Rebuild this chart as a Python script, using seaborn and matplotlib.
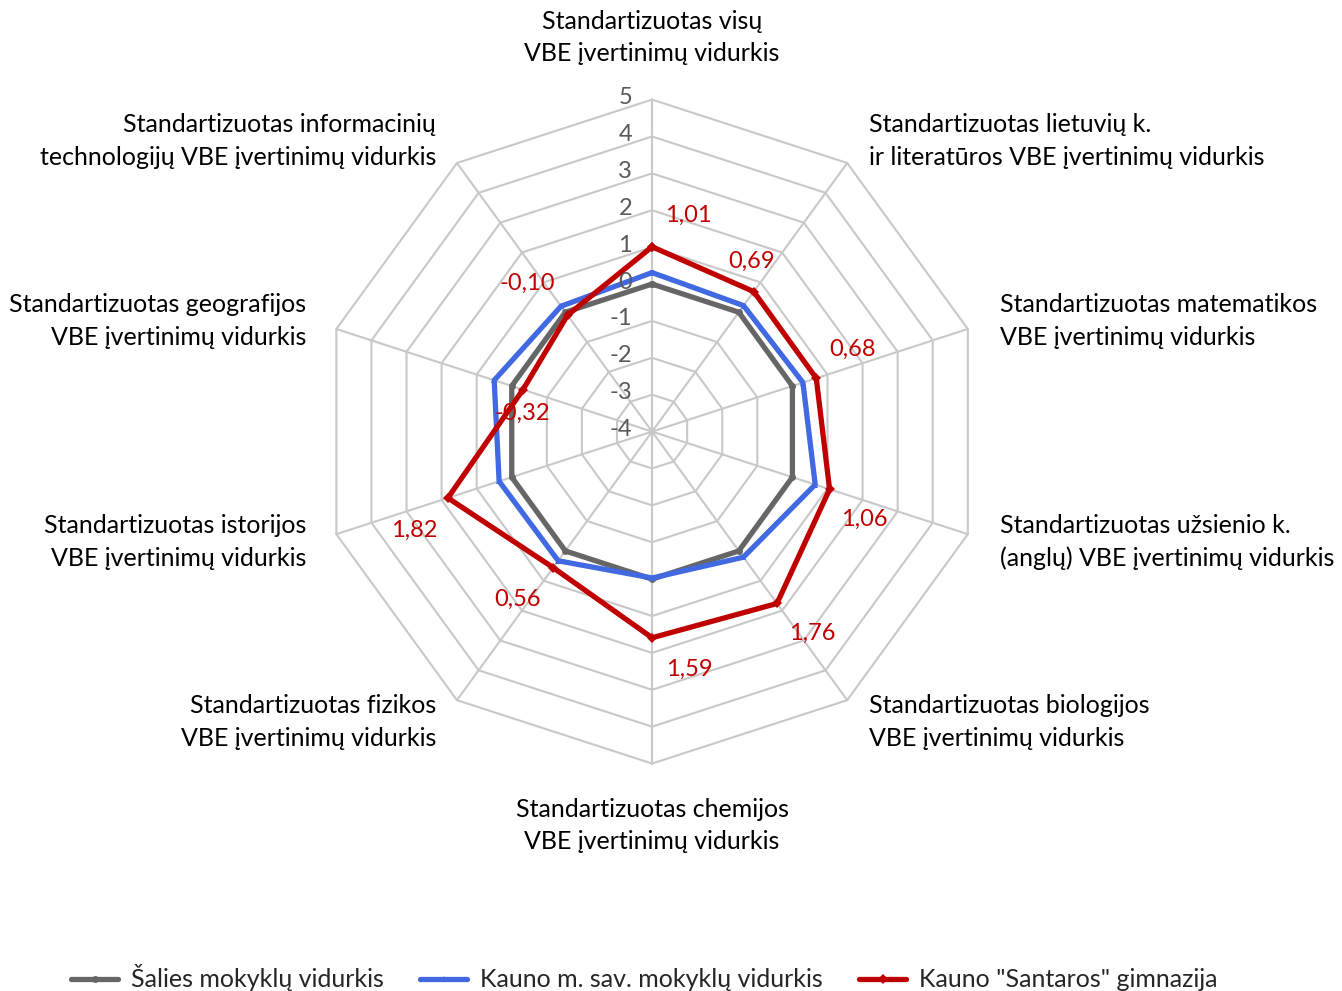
import numpy as np
import pandas as pd
import matplotlib
matplotlib.use("Agg")
import matplotlib.pyplot as plt
import seaborn as sns

# Data
categories = [
    "Standartizuotas visų\nVBE įvertinimų vidurkis",
    "Standartizuotas lietuvių k.\nir literatūros VBE įvertinimų vidurkis",
    "Standartizuotas matematikos\nVBE įvertinimų vidurkis",
    "Standartizuotas užsienio k.\n(anglų) VBE įvertinimų vidurkis",
    "Standartizuotas biologijos\nVBE įvertinimų vidurkis",
    "Standartizuotas chemijos\nVBE įvertinimų vidurkis",
    "Standartizuotas fizikos\nVBE įvertinimų vidurkis",
    "Standartizuotas istorijos\nVBE įvertinimų vidurkis",
    "Standartizuotas geografijos\nVBE įvertinimų vidurkis",
    "Standartizuotas informacinių\ntechnologijų VBE įvertinimų vidurkis",
]
salies = [0, 0, 0, 0, 0, 0, 0, 0, 0, 0]
kauno_sav = [0.31, 0.22, 0.30, 0.65, 0.21, -0.03, 0.33, 0.36, 0.50, 0.20]
santaros = [1.01, 0.69, 0.68, 1.06, 1.76, 1.59, 0.56, 1.82, -0.32, -0.10]
series_names = ["Šalies mokyklų vidurkis", "Kauno m. sav. mokyklų vidurkis",
                'Kauno "Santaros" gimnazija']
r_ticks = [-4, -3, -2, -1, 0, 1, 2, 3, 4, 5]

sns.set_theme(style="white")
plt.rcParams["font.family"] = ["Lato", "DejaVu Sans"]

n = len(categories)
theta = np.linspace(0, 2 * np.pi, n, endpoint=False)
theta_c = np.append(theta, theta[0])

fig = plt.figure(figsize=(13.42, 9.91), dpi=100)
ax = fig.add_axes([0.2385, 0.2295, 0.4948, 0.670], projection="polar")
ax.set_theta_zero_location("N")
ax.set_theta_direction(-1)
ax.set_ylim(-4, 5)
ax.set_axis_off()

grid_col = "#C8C8C8"
for r in r_ticks[1:]:
    ax.plot(theta_c, [r] * (n + 1), color=grid_col, lw=1.5, zorder=1, clip_on=False)
for t in theta:
    ax.plot([t, t], [-4, 5], color=grid_col, lw=1.5, zorder=1, clip_on=False)

colors = ["#666666", "#4169E1", "#C00000"]
markers = ["o", "^", "D"]
for vals, name, col, mk in zip([salies, kauno_sav, santaros], series_names, colors, markers):
    df = pd.DataFrame({"theta": theta_c, "value": vals + vals[:1]})
    sns.lineplot(data=df, x="theta", y="value", ax=ax, sort=False, estimator=None,
                 color=col, lw=3.8, marker=mk, markersize=5, markeredgewidth=0,
                 label=name, zorder=3, clip_on=False)

# radial tick labels along the top spoke
for r in r_ticks:
    ax.annotate(str(r), xy=(0, r), xytext=(-20, 2), textcoords="offset pixels",
                ha="right", va="center", fontsize=17, color="#595959",
                annotation_clip=False)

# red data labels
label_offsets = [(36, 31), (-2, 30), (36, 29), (35, -30), (35, -30),
                 (37, -32), (-36, -32), (-34, -32), (-1, -24), (-40, 32)]
for t, v, off in zip(theta, santaros, label_offsets):
    ax.annotate(f"{v:.2f}".replace(".", ","), xy=(t, v), xytext=off,
                textcoords="offset pixels", ha="center", va="center",
                fontsize=17, color="#C00000", annotation_clip=False, zorder=4)

# category labels
cat_offsets = [(0, 62), (22, 22), (32, 8), (32, -8), (22, -22),
               (0, -62), (-21, -22), (-30, -8), (-30, 8), (-21, 22)]
cat_ha = ["center", "left", "left", "left", "left",
          "center", "right", "right", "right", "right"]
for t, lab, off, ha in zip(theta, categories, cat_offsets, cat_ha):
    ax.annotate(lab, xy=(t, 5), xytext=off, textcoords="offset pixels",
                ha=ha, va="center", multialignment=ha, fontsize=18,
                color="black", linespacing=1.5, annotation_clip=False)

handles, labels = ax.get_legend_handles_labels()
ax.get_legend().remove()
fig.legend(handles, labels, loc="lower center", bbox_to_anchor=(0.48, -0.023),
           ncol=3, frameon=False, fontsize=18, handlelength=1.9,
           columnspacing=1.45, handletextpad=0.5)

fig.savefig("out.png", dpi=100)
